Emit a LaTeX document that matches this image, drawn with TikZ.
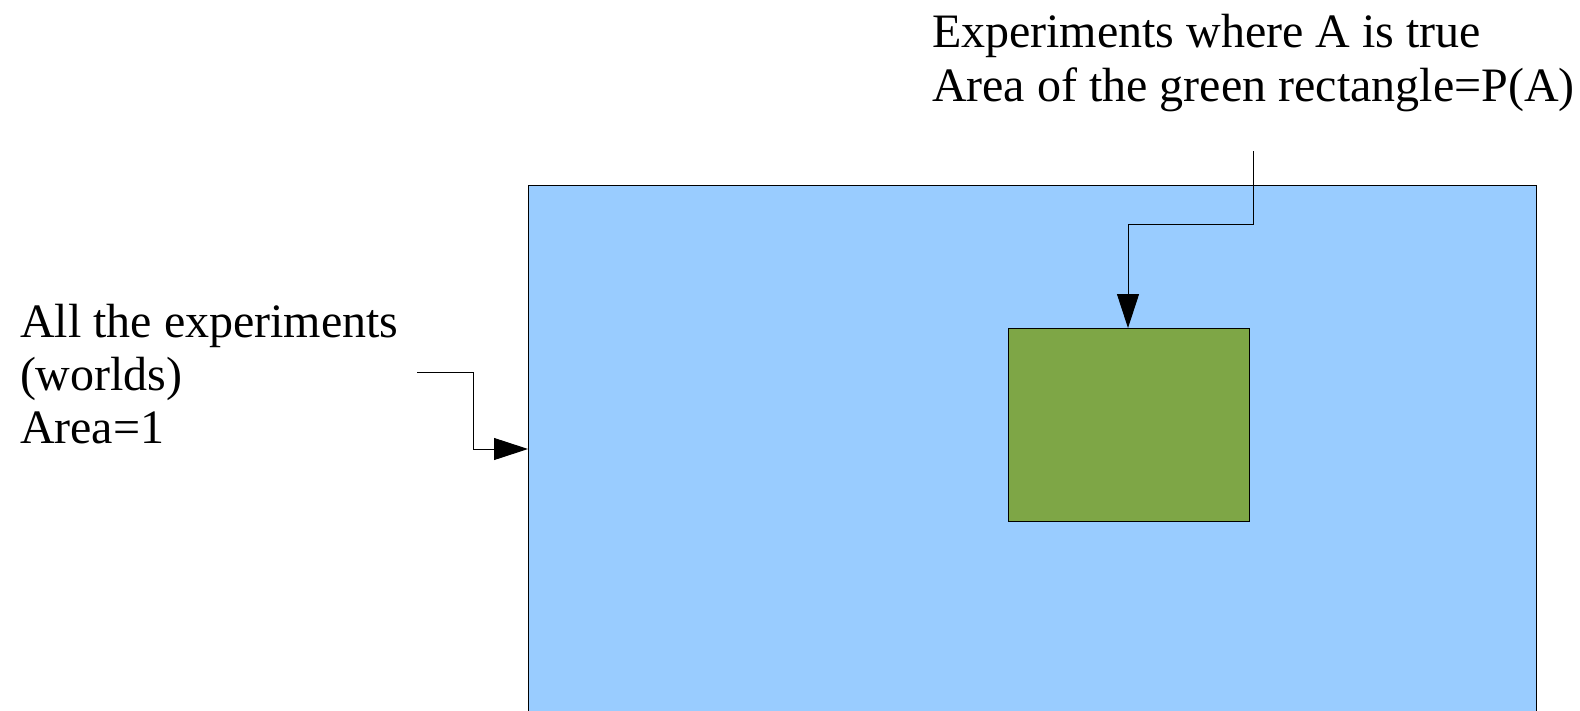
\documentclass[tikz,border=0pt]{standalone}
\usepackage{fontspec}
\setmainfont{Liberation Serif}
\usetikzlibrary{arrows.meta}
\definecolor{skyblue}{HTML}{99CCFF}
\definecolor{leafgreen}{HTML}{7EA646}
\begin{document}
\begin{tikzpicture}[x=1pt,y=-1pt,
  box/.style={draw=black, line width=1pt, inner sep=0pt, outer sep=0pt, anchor=north west},
  label/.style={inner sep=0pt, outer sep=0pt, anchor=base west, align=left,
    font=\fontsize{48}{54}\selectfont},
  conn/.style={draw=black, line width=1pt, -{Triangle[length=34pt,width=22pt]}}]
\useasboundingbox (0,0) rectangle (1580,710);
\clip (0,0) rectangle (1580,710);
\node[box, fill=skyblue, minimum width=1008pt, minimum height=540pt] (world) at (528,185) {};
\node[box, fill=leafgreen, minimum width=241pt, minimum height=193pt] (event) at (1008,328) {};
\node[label] (eventlbl) at (932,101) {Experiments where A is true\\Area of the green rectangle=P(A)};
\node[label, font=\fontsize{48}{53}\selectfont] (worldlbl) at (20,443) {All the experiments\\(worlds)\\Area=1};
\coordinate (tstart) at (1253,151);
\coordinate (tbend) at (1128,224);
\draw[conn] (tstart) |- (tbend) -- (tbend |- event.north);
\coordinate (lstart) at (417,372);
\coordinate (lbend) at (473,449);
\draw[conn] (lstart) -| (lbend) -- (lbend -| world.west);
\end{tikzpicture}
\end{document}
